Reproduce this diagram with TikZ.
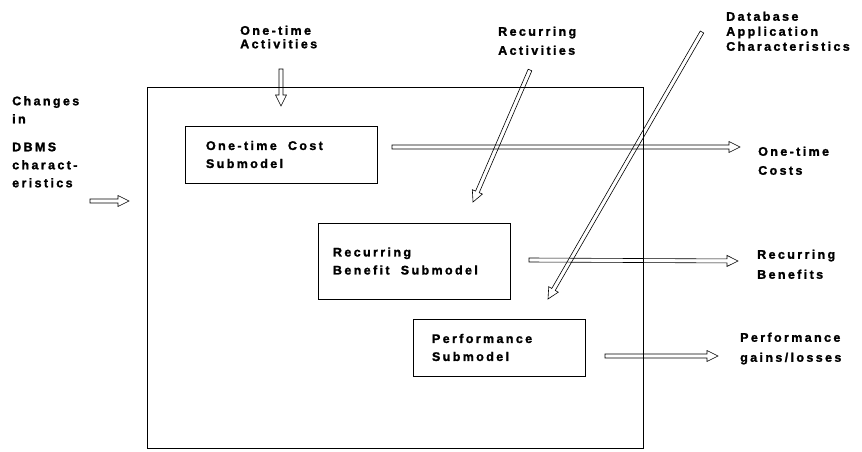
\documentclass[tikz,border=0pt]{standalone}
\usepackage{fontspec}
\usetikzlibrary{calc}
\newfontfamily\printfont{Liberation Sans Bold}[LetterSpace=19, FakeBold=1.5]
\tikzset{
  lbl/.style={font=\printfont\fontsize{12.5}{18}\selectfont, align=left, inner sep=0pt, anchor=north west},
  submodel/.style={draw, line width=.7pt, font=\printfont\fontsize{12.5}{18}\selectfont, align=left},
  flow/.style={line width=.6pt}
}
% hollow block arrow from #1 to #2
\newcommand\fatarrow[2]{%
  \draw[flow] let \p1=(#1), \p2=(#2), \n1={atan2(\y2-\y1,\x2-\x1)}, \n2={veclen(\x2-\x1,\y2-\y1)} in
    [shift={(\p1)}, rotate=\n1]
    (0pt,-2pt) -- ({\n2-11pt},-2pt) -- ({\n2-11pt},-5.5pt) -- (\n2,0pt)
    -- ({\n2-11pt},5.5pt) -- ({\n2-11pt},2pt) -- (0pt,2pt) -- cycle;}
\begin{document}
\begin{tikzpicture}[x=1pt,y=-1pt]
  \useasboundingbox (0,0) rectangle (862,452);
  % frame and submodels
  \node[draw, line width=.7pt, minimum width=496pt, minimum height=361pt, anchor=north west] (model) at (147,87) {};
  \node[submodel, text width=150pt, minimum width=192pt, minimum height=57pt] (onetime) at (281,154.5) {One-time\hspace{7pt} Cost\\Submodel};
  \node[submodel, text width=162pt, minimum width=192pt, minimum height=76pt] (recurring) at (414,261) {Recurring\\Benefit\hspace{7pt} Submodel};
  \node[submodel, text width=134pt, minimum width=172pt, minimum height=57pt] (perf) at (499,347.5) {Performance\\Submodel};
  % inputs
  \node[lbl] (dbms) at (12,96) {Changes\\in\\[10pt]DBMS\\charact-\\eristics};
  \node[lbl, font=\printfont\fontsize{12.5}{13.5}\selectfont] (otact) at (240,25.5) {One-time\\Activities};
  \node[lbl, font=\printfont\fontsize{12.5}{19}\selectfont] (recact) at (498,26.5) {Recurring\\Activities};
  \node[lbl, font=\printfont\fontsize{12.5}{15}\selectfont] (dbapp) at (726,11.5) {Database\\Application\\Characteristics};
  % outputs
  \node[lbl, font=\printfont\fontsize{12.5}{19}\selectfont] (otcost) at (758,146.5) {One-time\\Costs};
  \node[lbl, font=\printfont\fontsize{12.5}{20}\selectfont] (recben) at (757,249.5) {Recurring\\Benefits};
  \node[lbl, font=\printfont\fontsize{12.5}{20}\selectfont] (perfgl) at (740,332.5) {Performance\\gains/losses};
  % arrow ends
  \coordinate (dbmsA) at (90,201);   \coordinate (dbmsB) at (129,201);
  \coordinate (otactA) at (281,69);  \coordinate (otactB) at (281,106);
  \coordinate (recactA) at (530,70); \coordinate (recactB) at (473,202);
  \coordinate (dbappA) at (702,32);  \coordinate (dbappB) at (548,299);
  \coordinate (otcostA) at (392,147); \coordinate (otcostB) at (740,147);
  \coordinate (recbenA) at (529,260); \coordinate (recbenB) at (738,261);
  \coordinate (perfglA) at (605,356); \coordinate (perfglB) at (718,356);
  \fatarrow{dbmsA}{dbmsB}
  \fatarrow{otactA}{otactB}
  \fatarrow{recactA}{recactB}
  \fatarrow{dbappA}{dbappB}
  \fatarrow{otcostA}{otcostB}
  \fatarrow{recbenA}{recbenB}
  \fatarrow{perfglA}{perfglB}
\end{tikzpicture}
\end{document}
